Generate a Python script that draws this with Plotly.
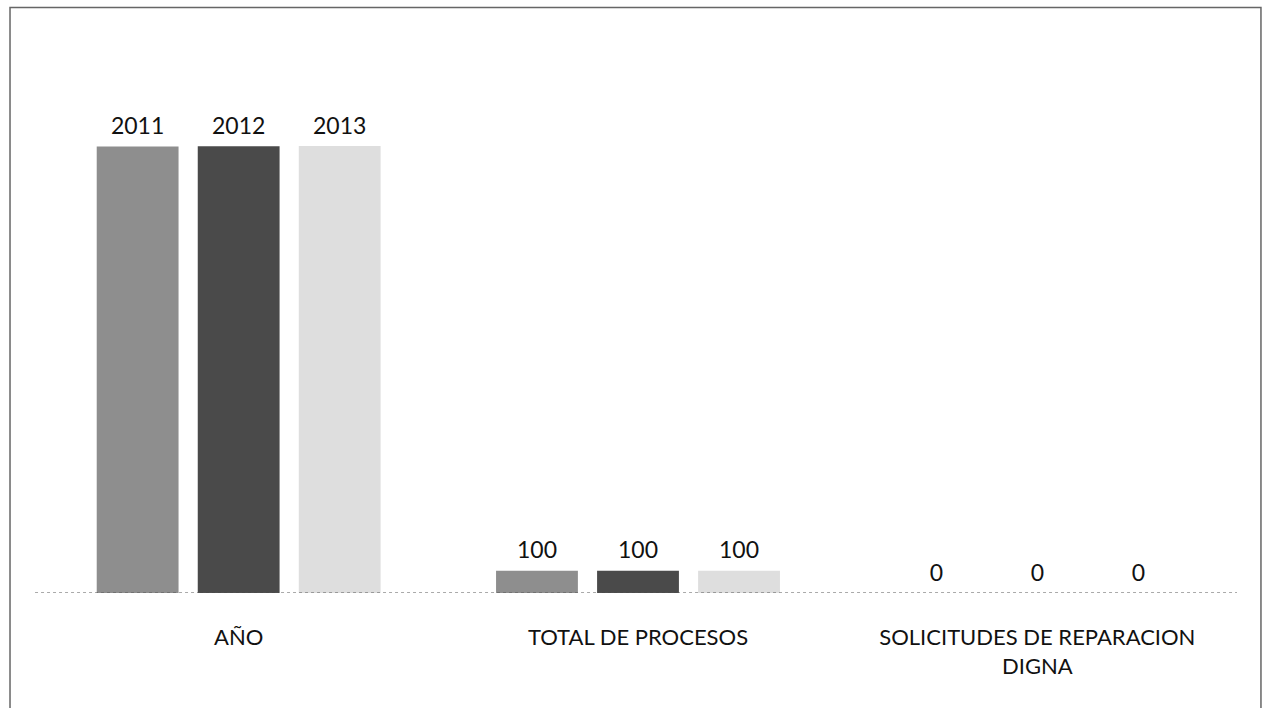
import plotly.graph_objects as go

categories = ["AÑO", "TOTAL DE PROCESOS", "SOLICITUDES DE REPARACION<br>DIGNA"]
series_names = ["Serie 1", "Serie 2", "Serie 3"]
values_s1 = [2011, 100, 0]
values_s2 = [2012, 100, 0]
values_s3 = [2013, 100, 0]
colors = ["#8e8e8e", "#4a4a4a", "#dedede"]

fig = go.Figure()
for i, (name, vals, col) in enumerate(zip(series_names, [values_s1, values_s2, values_s3], colors)):
    fig.add_trace(go.Bar(
        x=categories, y=vals, name=name,
        marker=dict(color=col, line=dict(width=0)),
        offsetgroup=str(i), alignmentgroup="a",
    ))
for i, (name, vals) in enumerate(zip(series_names, [values_s1, values_s2, values_s3])):
    fig.add_trace(go.Scatter(
        x=categories, y=vals, name=name, mode="markers+text",
        marker=dict(size=9, opacity=0),
        text=[str(v) for v in vals], textposition="top center",
        textfont=dict(family="Lato", size=23, color="#111111"),
        offsetgroup=str(i), alignmentgroup="a",
        cliponaxis=False, hoverinfo="skip",
    ))

fig.update_layout(
    width=1263, height=708,
    margin=dict(l=39, r=26, t=38, b=115),
    barmode="group", bargap=0.241, bargroupgap=0.19,
    scattermode="group", scattergap=0.241,
    plot_bgcolor="white", paper_bgcolor="white",
    showlegend=False,
    font=dict(family="Lato", color="#111111"),
    xaxis=dict(showline=False, showgrid=False, ticks="outside", ticklen=25,
               tickcolor="rgba(0,0,0,0)", tickfont=dict(size=22, family="Lato", color="#111111")),
    yaxis=dict(range=[0, 2500], visible=False, showgrid=False, zeroline=False),
    shapes=[
        dict(type="line", xref="paper", yref="y", x0=-0.0033, x1=1, y0=0, y1=0,
             line=dict(color="#555555", width=1, dash="dot")),
        dict(type="rect", xref="paper", yref="paper", x0=-0.0242, x1=1.02, y0=-0.22, y1=1.055,
             line=dict(color="#666666", width=1.5)),
    ],
)

fig.write_html("out.html")
